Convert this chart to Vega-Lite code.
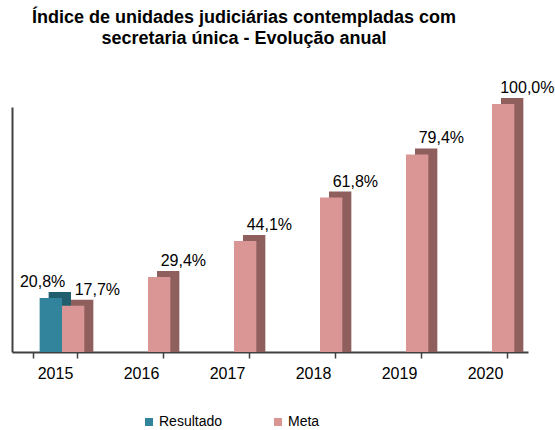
{
  "$schema": "https://vega.github.io/schema/vega-lite/v6.json",
  "width": 516,
  "height": 245,
  "autosize": {"type": "none"},
  "padding": {"left": 12, "top": 107, "right": 27, "bottom": 78},
  "background": "white",
  "title": {
    "text": ["Índice de unidades judiciárias contempladas com", "secretaria única - Evolução  anual"],
    "font": "Liberation Sans",
    "fontSize": 18,
    "fontWeight": "bold",
    "color": "#000000",
    "lineHeight": 21,
    "anchor": "middle",
    "dx": -26,
    "offset": 32
  },
  "data": {
    "values": [
      {"year": "2015", "series": "Resultado", "value": 0.208},
      {"year": "2015", "series": "Meta", "value": 0.177},
      {"year": "2016", "series": "Meta", "value": 0.294},
      {"year": "2017", "series": "Meta", "value": 0.441},
      {"year": "2018", "series": "Meta", "value": 0.618},
      {"year": "2019", "series": "Meta", "value": 0.794},
      {"year": "2020", "series": "Meta", "value": 1.0}
    ]
  },
  "encoding": {
    "x": {
      "field": "year", "type": "nominal", "title": null,
      "scale": {"paddingInner": 0.48, "paddingOuter": 0.24},
      "axis": {
        "labelAngle": 0, "labelFont": "Liberation Sans", "labelFontSize": 16, "labelColor": "#000000",
        "domainColor": "#404040", "domainWidth": 2, "tickColor": "#404040", "tickWidth": 1.5, "tickSize": 6,
        "tickBand": "extent", "labelPadding": 7
      }
    },
    "y": {
      "field": "value", "type": "quantitative", "title": null, "stack": null,
      "scale": {"domain": [0, 1], "nice": false},
      "axis": {"labels": false, "ticks": false, "grid": false, "domainColor": "#404040", "domainWidth": 2}
    }
  },
  "layer": [
    {
      "mark": {"type": "bar", "yOffset": -9},
      "encoding": {
        "xOffset": {"field": "series", "type": "nominal", "sort": ["Resultado", "Meta"], "scale": {"domain": ["Resultado", "Meta"], "range": [16, 60.7], "paddingInner": 0, "paddingOuter": 0}},
        "color": {"condition": {"test": "datum.series === 'Resultado'", "value": "#225f6e"}, "value": "#8f5f5e"}
      }
    },
    {
      "mark": {"type": "bar", "yOffset": -3},
      "encoding": {
        "xOffset": {"field": "series", "type": "nominal", "sort": ["Resultado", "Meta"], "scale": {"domain": ["Resultado", "Meta"], "range": [7, 51.7], "paddingInner": 0, "paddingOuter": 0}},
        "color": {
          "field": "series", "type": "nominal", "sort": ["Resultado", "Meta"],
          "scale": {"domain": ["Resultado", "Meta"], "range": ["#31849b", "#d99694"]},
          "legend": {
            "title": null, "orient": "none", "direction": "horizontal", "columns": 2,
            "legendX": 130, "legendY": 308, "padding": 0,
            "symbolType": "square", "symbolSize": 64, "symbolStrokeWidth": 0, "symbolOpacity": 1,
            "labelFont": "Liberation Sans", "labelFontSize": 14, "labelColor": "#000000",
            "labelOffset": 3, "columnPadding": 48
          }
        }
      }
    },
    {
      "transform": [{"filter": "datum.series === 'Resultado'"}],
      "mark": {"type": "text", "baseline": "alphabetic", "dy": -14, "dx": 10, "font": "Liberation Sans", "fontSize": 16, "color": "#000000"},
      "encoding": {
        "xOffset": {"field": "series", "type": "nominal", "sort": ["Resultado", "Meta"], "scale": {"domain": ["Resultado", "Meta"], "range": [0, 44.7], "paddingInner": 0, "paddingOuter": 0}},
        "text": {"field": "value", "type": "quantitative", "format": ".1%"}
      }
    },
    {
      "transform": [{"filter": "datum.series === 'Meta'"}],
      "mark": {"type": "text", "baseline": "alphabetic", "dy": -14, "dx": 20, "font": "Liberation Sans", "fontSize": 16, "color": "#000000"},
      "encoding": {
        "xOffset": {"field": "series", "type": "nominal", "sort": ["Resultado", "Meta"], "scale": {"domain": ["Resultado", "Meta"], "range": [0, 44.7], "paddingInner": 0, "paddingOuter": 0}},
        "text": {"field": "value", "type": "quantitative", "format": ".1%"}
      }
    }
  ],
  "resolve": {"scale": {"xOffset": "independent"}},
  "config": {
    "view": {"stroke": null},
    "locale": {"number": {"decimal": ",", "thousands": ".", "grouping": [3], "currency": ["R$", ""]}}
  }
}
